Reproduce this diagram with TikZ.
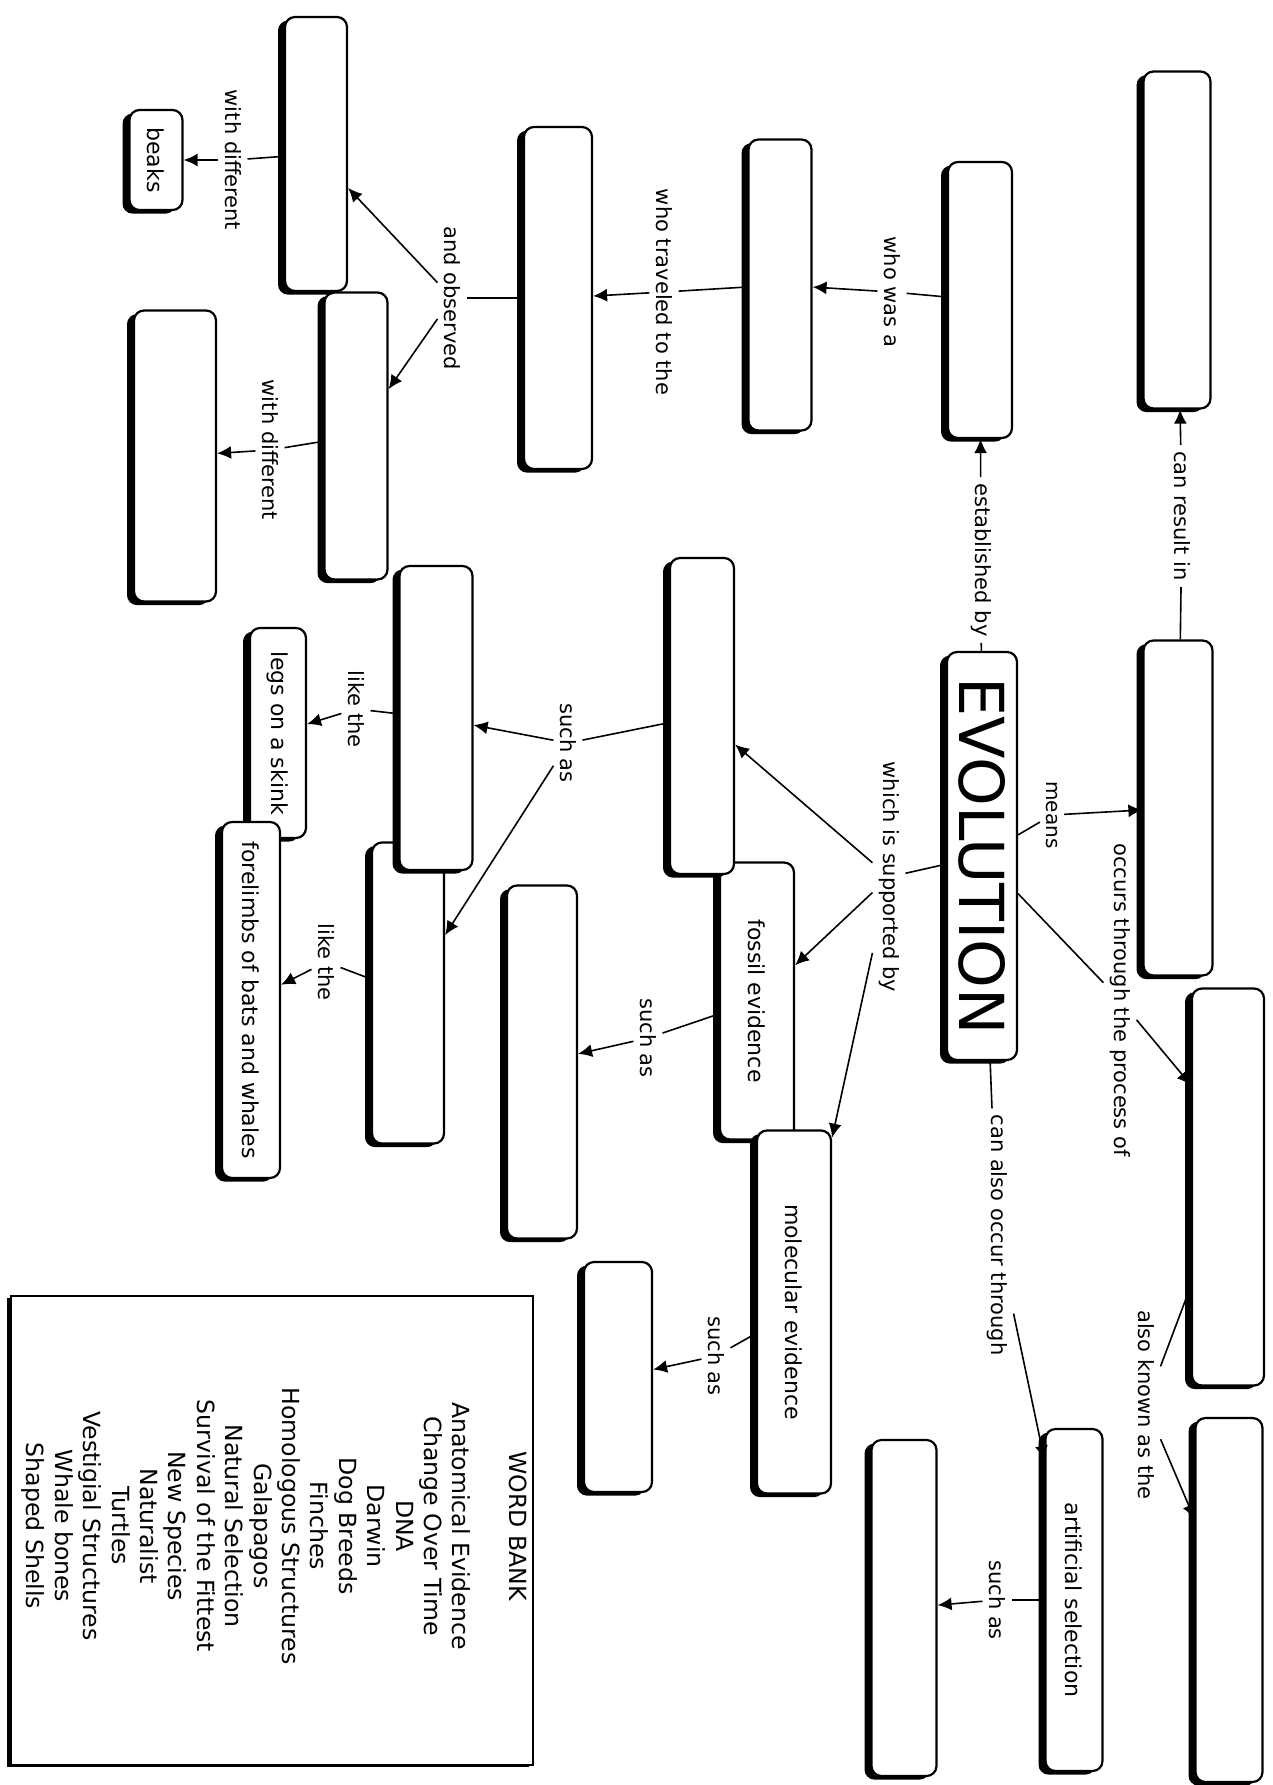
\documentclass[tikz,border=0pt]{standalone}
\usepackage{fontspec}
\setmainfont{DejaVu Sans}
\usepackage{graphicx}
\usetikzlibrary{arrows.meta,shadows}
\newcommand{\vtext}[1]{\rotatebox{-90}{#1}}

\begin{document}
\begin{tikzpicture}[x=0.5pt,y=-0.5pt,
  concept/.style={draw, line width=1.1pt, rounded corners=5pt, fill=white, inner sep=0pt,
    font=\fontsize{11}{13}\selectfont,
    drop shadow={shadow xshift=-3.5pt, shadow yshift=-1.8pt, opacity=1, fill=black}},
  linkword/.style={inner sep=3pt, font=\fontsize{10.5}{12}\selectfont},
  link/.style={line width=0.8pt},
  linkarrow/.style={line width=0.8pt, -{Latex[length=7pt,width=6.5pt]}}]
\useasboundingbox (0,0) rectangle (1273,1785);

\node[concept, minimum width=33.5pt, minimum height=168.5pt] (newspecies) at (1177,240) {};
\node[concept, minimum width=34.5pt, minimum height=167.5pt] (changetime) at (1178,808) {};
\node[concept, minimum width=32pt, minimum height=138pt] (darwin) at (980,300) {};
\node[concept, minimum width=31.5pt, minimum height=145.5pt] (naturalist) at (780,285) {};
\node[concept, minimum width=34pt, minimum height=171pt] (galapagos) at (558,298) {};
\node[concept, minimum width=31.5pt, minimum height=143.5pt] (turtles) at (356,436) {};
\node[concept, minimum width=31pt, minimum height=137pt] (finches) at (316,154) {};
\node[concept, minimum width=26.5pt, minimum height=50pt] (beaks) at (156,160) {\vtext{beaks}};
\node[concept, minimum width=41pt, minimum height=145.5pt] (shells) at (175,456) {};
\node[concept, minimum width=35pt, minimum height=204pt, font=\fontsize{31}{31}\selectfont] (evolution) at (982,856) {\vtext{EVOLUTION}};
\node[concept, minimum width=36pt, minimum height=198.5pt] (natsel) at (1228,1187) {};
\node[concept, minimum width=33.5pt, minimum height=182pt] (survival) at (1229,1600) {};
\node[concept, minimum width=28.5pt, minimum height=171pt] (artificial) at (1074,1600) {\vtext{artificial selection}};
\node[concept, minimum width=32.5pt, minimum height=168pt] (dogs) at (904,1608) {};
\node[concept, minimum width=37pt, minimum height=138.5pt] (fossil) at (757,1001) {\vtext{fossil evidence}};
\node[concept, minimum width=32pt, minimum height=158pt] (anatomical) at (702,716) {};
\node[concept, minimum width=37pt, minimum height=181.5pt] (molecular) at (794,1312) {\vtext{molecular evidence}};
\node[concept, minimum width=34pt, minimum height=115pt] (dna) at (618,1377) {};
\node[concept, minimum width=35pt, minimum height=176.5pt] (whale) at (542,1062) {};
\node[concept, minimum width=36pt, minimum height=150.5pt] (homologous) at (408,993) {};
\node[concept, minimum width=36.5pt, minimum height=152pt] (vestigial) at (436,718) {};
\node[concept, minimum width=28pt, minimum height=105pt] (skink) at (278,733) {\vtext{legs on a skink}};
\node[concept, minimum width=29pt, minimum height=178pt] (forelimbs) at (251,1000) {\vtext{forelimbs of bats and whales}};

\node[linkword] (resultin) at (1182,516) {\vtext{can result in}};
\node[linkword] (estby) at (981,560) {\vtext{established by}};
\node[linkword] (wasa) at (892,292) {\vtext{who was a}};
\node[linkword] (traveled) at (664,292) {\vtext{who traveled to the}};
\node[linkword] (observed) at (452,298) {\vtext{and observed}};
\node[linkword] (diffbeaks) at (233,160) {\vtext{with different}};
\node[linkword] (diffshells) at (270,450) {\vtext{with different}};
\node[linkword, font=\fontsize{10}{11}\selectfont] (means) at (1052,815) {\vtext{means}};
\node[linkword] (process) at (1120,1000) {\vtext{occurs through the process of}};
\node[linkword] (knownas) at (1146,1405) {\vtext{also known as the}};
\node[linkword] (alsooccur) at (997,1235) {\vtext{can also occur through}};
\node[linkword] (suchart) at (997,1600) {\vtext{such as}};
\node[linkword] (supported) at (889,877) {\vtext{which is supported by}};
\node[linkword] (suchanat) at (568,743) {\vtext{such as}};
\node[linkword] (suchfossil) at (648,1038) {\vtext{such as}};
\node[linkword] (suchmol) at (716,1356) {\vtext{such as}};
\node[linkword] (likeskink) at (356,709) {\vtext{like the}};
\node[linkword] (likebats) at (326,962) {\vtext{like the}};

\draw[link] (changetime) -- (resultin);
\draw[linkarrow] (resultin) -- (newspecies);
\draw[link] (evolution) -- (estby);
\draw[linkarrow] (estby) -- (darwin);
\draw[link] (darwin) -- (wasa);
\draw[linkarrow] (wasa) -- (naturalist);
\draw[link] (naturalist) -- (traveled);
\draw[linkarrow] (traveled) -- (galapagos);
\draw[link] (galapagos) -- (observed);
\draw[linkarrow] (observed) -- (finches);
\draw[linkarrow] (observed) -- (turtles);
\draw[link] (finches) -- (diffbeaks);
\draw[linkarrow] (diffbeaks) -- (beaks);
\draw[link] (turtles) -- (diffshells);
\draw[linkarrow] (diffshells) -- (shells);
\draw[link] (evolution) -- (means);
\draw[linkarrow] (means) -- (changetime);
\draw[link] (evolution) -- (process);
\draw[linkarrow] (process) -- (natsel.110);
\draw[link] (natsel) -- (knownas);
\draw[linkarrow] (knownas) -- (survival);
\draw[link] (evolution) -- (alsooccur);
\draw[linkarrow] (alsooccur) -- (artificial);
\draw[link] (artificial) -- (suchart);
\draw[linkarrow] (suchart) -- (dogs);
\draw[link] (evolution) -- (supported);
\draw[linkarrow] (supported) -- (anatomical);
\draw[linkarrow] (supported) -- (fossil);
\draw[linkarrow] (supported) -- (molecular);
\draw[link] (anatomical) -- (suchanat);
\draw[linkarrow] (suchanat) -- (vestigial);
\draw[linkarrow] (suchanat) -- (homologous);
\draw[link] (fossil) -- (suchfossil);
\draw[linkarrow] (suchfossil) -- (whale);
\draw[link] (molecular) -- (suchmol);
\draw[linkarrow] (suchmol) -- (dna);
\draw[link] (vestigial) -- (likeskink);
\draw[linkarrow] (likeskink) -- (skink);
\draw[link] (homologous) -- (likebats);
\draw[linkarrow] (likebats) -- (forelimbs);

\draw[line width=1pt, fill=white, drop shadow={shadow xshift=-2pt, shadow yshift=-1pt, opacity=1, fill=black}] (11,1296) rectangle (533,1765);
\node[font=\fontsize{11.8}{14.2}\selectfont] (wordbank) at (274,1526) {\vtext{\begin{tabular}{@{}c@{}}
WORD BANK\\[14.2pt]
Anatomical Evidence\\ Change Over Time\\ DNA\\ Darwin\\ Dog Breeds\\ Finches\\
Homologous Structures\\ Galapagos\\ Natural Selection\\ Survival of the Fittest\\
New Species\\ Naturalist\\ Turtles\\ Vestigial Structures\\ Whale bones\\ Shaped Shells
\end{tabular}}};
\end{tikzpicture}
\end{document}
